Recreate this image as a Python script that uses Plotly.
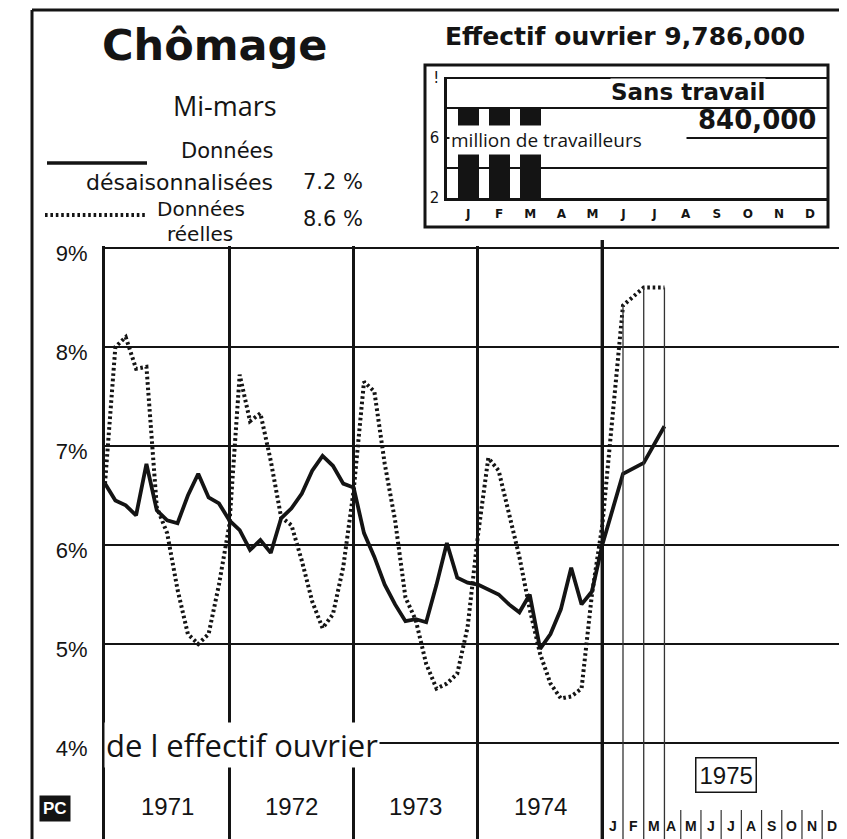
import plotly.graph_objects as go

W, H = 847, 839
OFF = 8  # page body margin offset of the figure in the window

# ---------------- data ----------------
month_letters = ["J", "F", "M", "A", "M", "J", "J", "A", "S", "O", "N", "D"]
year_labels = ["1971", "1972", "1973", "1974"]

# Données désaisonnalisées (%), Dec 1970, then monthly 1971-1974, then 1975 Jan-Mar
desais_dec_1970 = 6.62
desais_1971 = [6.45, 6.40, 6.30, 6.82, 6.35, 6.25, 6.22, 6.50, 6.72, 6.48, 6.42, 6.25]
desais_1972 = [6.15, 5.95, 6.05, 5.92, 6.27, 6.37, 6.52, 6.75, 6.90, 6.80, 6.62, 6.58]
desais_1973 = [6.12, 5.88, 5.60, 5.40, 5.23, 5.25, 5.22, 5.60, 6.02, 5.67, 5.62, 5.60]
desais_1974 = [5.55, 5.50, 5.40, 5.32, 5.50, 4.95, 5.10, 5.35, 5.77, 5.40, 5.53, 6.00]
desais_1975 = [6.72, 6.83, 7.20]

# Données réelles (%)
reel_dec_1970 = 6.62
reel_1971 = [8.00, 8.10, 7.78, 7.80, 6.38, 6.12, 5.55, 5.10, 5.00, 5.10, 5.60, 6.20]
reel_1972 = [7.72, 7.25, 7.33, 6.85, 6.28, 6.20, 5.84, 5.43, 5.16, 5.30, 5.78, 6.55]
reel_1973 = [7.65, 7.55, 6.82, 6.25, 5.47, 5.24, 4.80, 4.55, 4.60, 4.70, 5.17, 6.10]
reel_1974 = [6.88, 6.75, 6.30, 5.88, 5.35, 4.90, 4.60, 4.45, 4.47, 4.55, 5.50, 6.20]
reel_1975 = [8.42, 8.60, 8.60]

# inset: effectif ouvrier (millions) per month of 1975
inset_values = [8.05, 8.05, 8.05]

# -------------- helpers --------------
def px(x):
    return (x - OFF) / W

def py(y):
    return 1 - (y - OFF) / H

def xpos_hist(year_index, month):      # 1971-1974: one unit per month
    return year_index * 12 + month

def xpos_1975(month):                  # 1975 drawn at double width
    return 48 + 2 * month

def label_pos_1975(month):             # centre of the month's column in the 1975 strip
    if month <= 3:
        return 48 + 2 * month - 1.0
    return 54.6 + (month - 4) * 1.95

def build(dec70, years, y75):
    xs, ys = [0], [dec70]
    for yi, vals in enumerate(years):
        for m, v in enumerate(vals, start=1):
            xs.append(xpos_hist(yi, m))
            ys.append(v)
    for m, v in enumerate(y75, start=1):
        xs.append(xpos_1975(m))
        ys.append(v)
    return xs, ys

xs_d, ys_d = build(desais_dec_1970, [desais_1971, desais_1972, desais_1973, desais_1974], desais_1975)
xs_r, ys_r = build(reel_dec_1970, [reel_1971, reel_1972, reel_1973, reel_1974], reel_1975)

INK = "#141414"
Y_TOP_PX = 246
PX_PER_PCT = 99.0
PX_PER_MONTH = 10.36
Y_TOP = 9 + (248 - Y_TOP_PX) / PX_PER_PCT
Y_BOT = Y_TOP - (H + OFF - Y_TOP_PX) / PX_PER_PCT
X_MAX = (W + OFF - 105) / PX_PER_MONTH

fig = go.Figure()

DOTS = "2.6px,2.8px"
fig.add_trace(go.Scatter(x=xs_r, y=ys_r, mode="lines",
                         line=dict(color=INK, width=4.0, dash=DOTS),
                         hoverinfo="skip"))
fig.add_trace(go.Scatter(x=xs_d, y=ys_d, mode="lines",
                         line=dict(color=INK, width=3.8),
                         hoverinfo="skip"))

# inset bars
fig.add_trace(go.Bar(x=list(range(len(inset_values))), y=inset_values,
                     width=0.68, marker=dict(color=INK, line=dict(width=0)),
                     xaxis="x2", yaxis="y2", hoverinfo="skip"))

tick_font = dict(family="Liberation Sans, Arial, sans-serif", size=22, color=INK)

fig.update_layout(
    template="none",
    width=W, height=H,
    margin=dict(l=0, r=0, t=0, b=0, pad=0, autoexpand=False),
    paper_bgcolor="white", plot_bgcolor="white",
    showlegend=False,
    xaxis=dict(domain=[px(105), 1], range=[0, X_MAX], automargin=False,
               tickvals=[0, 12, 24, 36, 48], showticklabels=False,
               showgrid=True, gridcolor=INK, gridwidth=2.6,
               zeroline=False, showline=False, ticks="", fixedrange=True),
    yaxis=dict(domain=[0, py(Y_TOP_PX)], range=[Y_BOT, Y_TOP], automargin=False,
               tickvals=[4, 5, 6, 7, 8, 9],
               ticktext=["4%", "5%", "6%", "7%", "8%", "9%"],
               tickfont=tick_font, ticklabelstandoff=10, ticklabelshift=5,
               showgrid=True, gridcolor=INK, gridwidth=2.2,
               zeroline=False, showline=True, linecolor=INK, linewidth=3,
               ticks="", fixedrange=True),
    xaxis2=dict(domain=[px(447), px(828)], range=[-0.68, 11.58], anchor="y2",
                automargin=False,
                tickvals=list(range(12)), ticktext=month_letters,
                tickfont=dict(family="DejaVu Sans, sans-serif", size=12, color=INK, weight="bold"),
                ticklabelstandoff=3,
                showgrid=False, zeroline=False, showline=True,
                linecolor=INK, linewidth=2.5, ticks="", fixedrange=True),
    yaxis2=dict(domain=[py(198), py(76.5)], range=[2, 10.1], anchor="x2",
                automargin=False,
                tickvals=[2, 4, 6, 8, 10], ticktext=["2", "", "6", "", "!"],
                tickfont=dict(family="DejaVu Sans, sans-serif", size=15, color=INK),
                ticklabelstandoff=2,
                showgrid=True, gridcolor=INK, gridwidth=2,
                zeroline=False, showline=True, linecolor=INK, linewidth=2.5,
                ticks="", fixedrange=True),
    bargap=0,
)

shapes = []
# outer frame
shapes.append(dict(type="line", xref="paper", yref="paper", x0=px(32), x1=px(32), y0=py(10), y1=0,
                   line=dict(color=INK, width=3)))
shapes.append(dict(type="line", xref="paper", yref="paper", x0=px(32), x1=1, y0=py(10), y1=py(10),
                   line=dict(color=INK, width=3)))
# inset box
shapes.append(dict(type="rect", xref="paper", yref="paper", x0=px(425), x1=px(828), y0=py(227), y1=py(65),
                   line=dict(color=INK, width=3), fillcolor="rgba(0,0,0,0)", layer="above"))
# heavier 1975 separator
shapes.append(dict(type="line", xref="x", yref="paper", x0=48, x1=48, y0=0, y1=py(240),
                   line=dict(color=INK, width=3.4)))
# drop lines from 1975 points
for m, v in enumerate(reel_1975, start=1):
    shapes.append(dict(type="line", xref="x", yref="y", x0=xpos_1975(m), x1=xpos_1975(m),
                       y0=Y_BOT, y1=v, line=dict(color="#333", width=1.3)))
# short separators between 1975 month letters
for m in range(4, 12):
    sep = (label_pos_1975(m) + label_pos_1975(m + 1)) / 2
    shapes.append(dict(type="line", xref="x", yref="paper", x0=sep, x1=sep,
                       y0=0, y1=py(810), line=dict(color="#333", width=1.2)))
# legend samples
shapes.append(dict(type="line", xref="paper", yref="paper", x0=px(47), x1=px(147), y0=py(163), y1=py(163),
                   line=dict(color=INK, width=3.4)))
shapes.append(dict(type="line", xref="paper", yref="paper", x0=px(45), x1=px(145), y0=py(215), y1=py(215),
                   line=dict(color=INK, width=4.0, dash=DOTS)))
fig.update_layout(shapes=shapes)

ann = []
def text(x, y, s, size, family="DejaVu Sans, sans-serif", weight="normal", xanchor="center", **kw):
    d = dict(x=px(x), y=py(y), xref="paper", yref="paper", text=s, showarrow=False,
             xanchor=xanchor, yanchor="middle",
             font=dict(family=family, size=size, color=INK, weight=weight))
    d.update(kw)
    ann.append(d)

LIGHT = "Open Sans, DejaVu Sans, sans-serif"
text(214, 45, "Chômage", 43, weight="bold")
text(225, 105, "Mi-mars", 27, family=LIGHT)
text(227, 151, "Données", 21)
text(179, 182, "désaisonnalisées", 22)
text(333, 182, "7.2 %", 21)
text(201, 209, "Données", 20)
text(200, 234, "réelles", 20)
text(333, 219, "8.6 %", 21)

text(625, 37, "Effectif ouvrier 9,786,000", 25, weight="bold")
text(688, 92, "Sans travail", 23, weight="bold", bgcolor="white", borderpad=0)
text(757, 120, "840,000", 26, weight="bold")
text(449, 140, "million de travailleurs", 19, family=LIGHT, xanchor="left",
     bgcolor="white", width=234, align="left", borderpad=1)

text(104, 745, "de l effectif ouvrier", 31, family=LIGHT, xanchor="left",
     bgcolor="white", borderpad=1)

for i, lab in enumerate(year_labels):
    ann.append(dict(x=xpos_hist(i, 6), y=py(806), xref="x", yref="paper", text=lab,
                    showarrow=False, xanchor="center", yanchor="middle",
                    font=dict(family="Liberation Sans, Arial, sans-serif", size=24, color=INK)))
for m, lab in enumerate(month_letters, start=1):
    ann.append(dict(x=label_pos_1975(m), y=py(826), xref="x", yref="paper", text=lab,
                    showarrow=False, xanchor="center", yanchor="middle",
                    font=dict(family="Liberation Sans, Arial, sans-serif", size=14, color=INK, weight="bold")))

text(55, 808, "PC", 17, family="Liberation Sans, Arial, sans-serif", weight="bold",
     bgcolor=INK, borderpad=3)
ann[-1]["font"]["color"] = "white"
text(726, 775, "1975", 24, family="Liberation Sans, Arial, sans-serif",
     bgcolor="white", bordercolor=INK, borderwidth=1.5, borderpad=3)

fig.update_layout(annotations=ann)
fig.write_html("out.html")
